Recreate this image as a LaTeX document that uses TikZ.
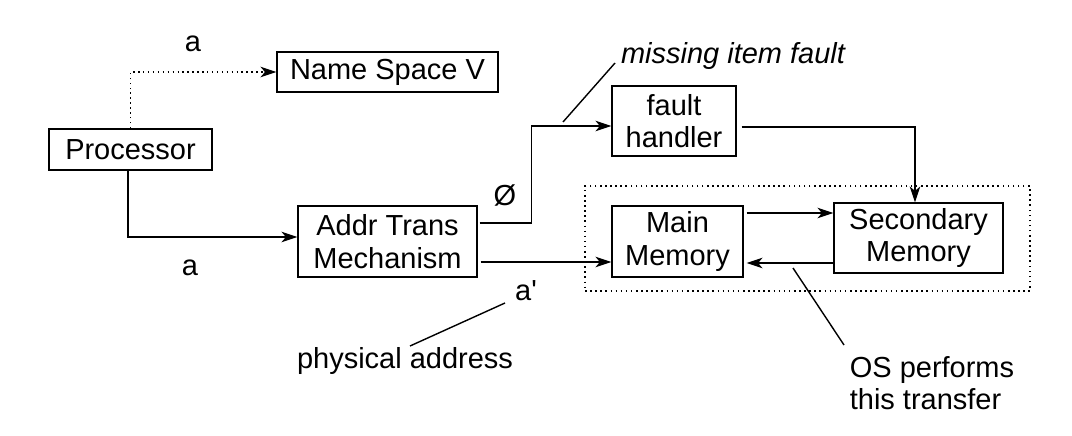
\documentclass[tikz,border=0pt]{standalone}
\usepackage{fontspec}
\setmainfont{Liberation Sans}
\usetikzlibrary{arrows.meta}
\begin{document}
\begin{tikzpicture}[x=0.02cm,y=-0.02cm,
  txt/.style={font=\fontsize{16.5}{18.5}\selectfont, inner sep=0pt},
  box/.style={txt, draw, line width=0.8pt, align=center},
  conn/.style={line width=0.8pt, -{Stealth[length=9pt,width=6pt,inset=2.5pt]}},
  leader/.style={line width=0.8pt},
  grpbox/.style={draw, dotted, line width=0.9pt, inner sep=0pt}]
\useasboundingbox (0,0) rectangle (1072,436);
% boxes
\node[box, minimum width=4.42cm, minimum height=0.8cm] (ns) at (387.5,72) {Name Space V};
\node[box, minimum width=3.26cm, minimum height=0.82cm] (proc) at (130.5,149.5) {Processor};
\node[box, minimum width=3.58cm, minimum height=1.42cm] (addr) at (387.5,241.5) {Addr Trans\\Mechanism};
\node[box, minimum width=2.48cm, minimum height=1.4cm] (fault) at (674,121) {fault\\handler};
\node[grpbox, minimum width=8.9cm, minimum height=2.1cm] (grp) at (807.5,238.5) {};
\node[box, minimum width=2.62cm, minimum height=1.42cm] (main) at (677.5,241.5) {Main\\Memory};
\node[box, minimum width=3.38cm, minimum height=1.4cm] (sec) at (918.5,238) {Secondary\\Memory};
% labels
\node[txt] (la1) at (193,44) {a};
\node[txt] (la2) at (190,268) {a};
\node[txt] (lnull) at (505,195) {Ø};
\node[txt] (lap) at (526,291) {a\textquotesingle};
\node[txt] (lpa) at (405,361) {physical address};
\node[txt, font=\fontsize{16.5}{18.5}\selectfont\itshape] (lmif) at (733,56) {missing item fault};
\node[txt, align=left] (los) at (932,383) {OS performs\\this transfer};
% connectors
\draw[conn, dotted] (proc.north) |- (ns.west);
\draw[conn] ([xshift=-0.05cm]proc.south) |- ([yshift=0.09cm]addr.west);
\draw[conn] ([xshift=0.04cm,yshift=0.37cm]addr.east) -- ++(52,0) |- ([yshift=-0.1cm]fault.west);
\draw[conn] ([xshift=0.1cm,yshift=-0.12cm]fault.east) -| ([xshift=-0.07cm]sec.north);
\draw[conn] ([xshift=0.06cm,yshift=-0.41cm]addr.east) -- ([yshift=-0.41cm]main.west);
\draw[conn] ([xshift=0.06cm,yshift=0.57cm]main.east) -- ([yshift=0.57cm]main.east -| sec.west);
\draw[conn] ([yshift=-0.43cm]main.east -| sec.west) -- ([xshift=0.06cm,yshift=-0.43cm]main.east);
% leader lines
\coordinate (mifA) at (563,122);
\coordinate (mifB) at (615,63);
\draw[leader] (mifA) -- (mifB);
\coordinate (paA) at (505,303);
\coordinate (paB) at (410,346);
\draw[leader] (paA) -- (paB);
\coordinate (osA) at (793,268);
\coordinate (osB) at (844,345);
\draw[leader] (osA) -- (osB);
\end{tikzpicture}
\end{document}
